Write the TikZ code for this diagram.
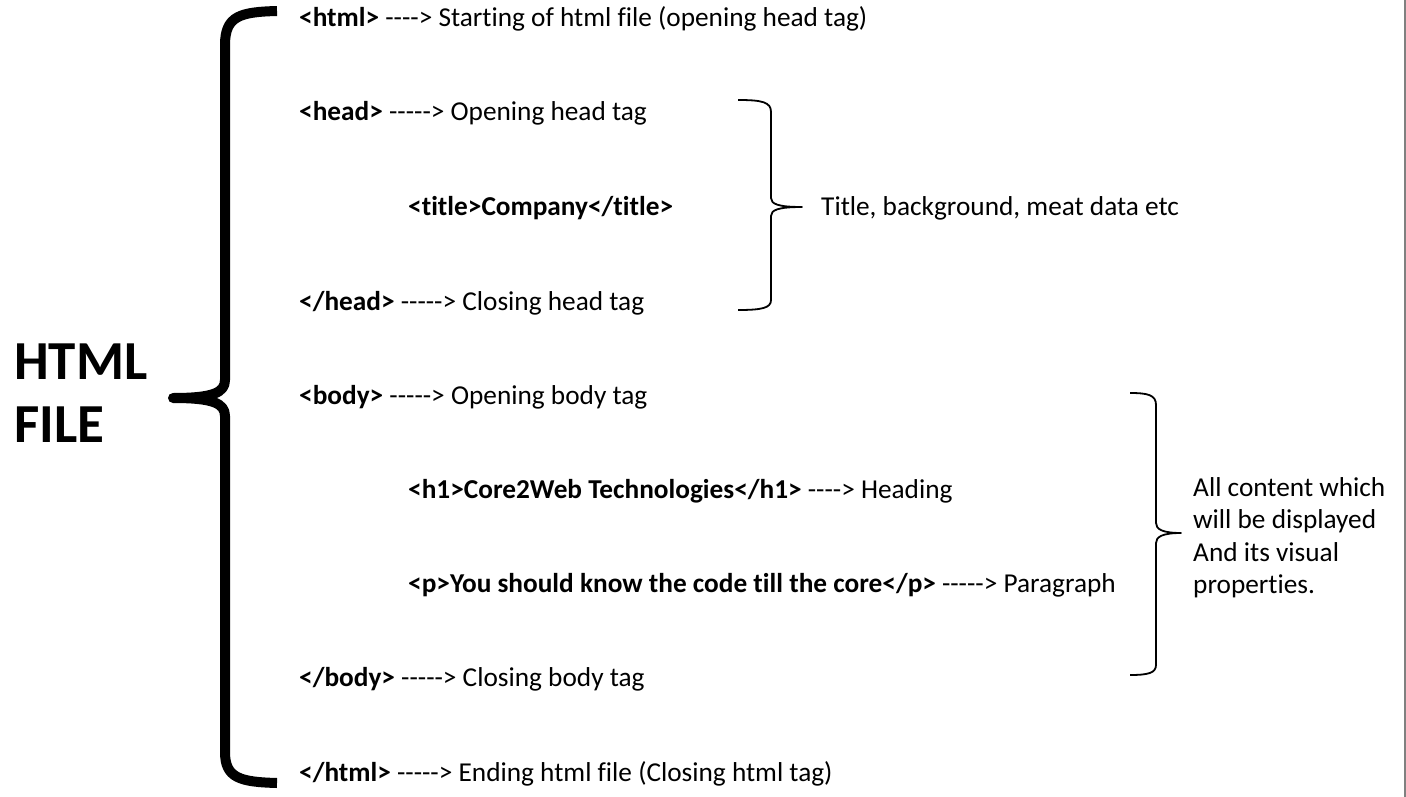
\documentclass[tikz,border=0pt]{standalone}
\usepackage{fontspec}
\setmainfont{Carlito}[Ligatures={TeXOff,NoCommon}]

\begin{document}
\begin{tikzpicture}[
x=1pt, y=-1pt,
tag_line/.style={anchor=base west, inner sep=0pt, font=\fontsize{27.3}{33}\selectfont},
side_note/.style={anchor=north west, inner sep=0pt, align=left, font=\fontsize{27.3}{32.5}\selectfont},
big_title/.style={anchor=west, inner sep=0pt, align=left, font=\fontsize{55}{63}\selectfont\bfseries},
big_brace/.style={line width=10pt, line join=round},
small_brace/.style={line width=1.8pt, line join=round}
]
\useasboundingbox (0,0) rectangle (1406,797);

% \node[style](name) at (x,y) {text};
\node[big_title](title) at (14,393) {HTML\\FILE};

\node[tag_line](html_open) at (299,27) {\textbf{<html>} ----> Starting of html file (opening head tag)};
\node[tag_line](head_open) at (299,121) {\textbf{<head>} -----> Opening head tag};
\node[tag_line](title_tag) at (408,215) {\textbf{<title>Company</title>}};
\node[tag_line](head_close) at (299,310) {\textbf{</head>} -----> Closing head tag};
\node[tag_line](body_open) at (299,404) {\textbf{<body>} -----> Opening body tag};
\node[tag_line](h1_tag) at (408,498) {\textbf{<h1>Core2Web Technologies</h1>} ----> Heading};
\node[tag_line](p_tag) at (408,592) {\textbf{<p>You should know the code till the core</p>} -----> Paragraph};
\node[tag_line](body_close) at (299,686) {\textbf{</body>} -----> Closing body tag};
\node[tag_line](html_close) at (299,781) {\textbf{</html>} -----> Ending html file (Closing html tag)};

\node[tag_line](head_note) at (821,215) {Title, background, meat data etc};
\node[side_note](body_note) at (1193,477) {All content which\\will be displayed\\And its visual\\properties.};

% braces
\coordinate (big_tip) at (173,398);
\coordinate (head_tip) at (802,207);
\coordinate (body_tip) at (1181,533);

\draw[big_brace] (277,11) .. controls (240,12) and (225,16) .. (225,45) -- (225,380)
  .. controls (225,393) and (212,398) .. (big_tip)
  .. controls (212,398) and (225,403) .. (225,416) -- (225,752)
  .. controls (225,778) and (240,782) .. (277,783);

\draw[small_brace] (738,100) .. controls (762,100) and (771,102) .. (771,112) -- (771,198)
  .. controls (771,204) and (778,207) .. (head_tip)
  .. controls (778,207) and (771,210) .. (771,216) -- (771,300)
  .. controls (771,308) and (762,310) .. (738,310);

\draw[small_brace] (1130,393) .. controls (1148,393) and (1156,395) .. (1156,405) -- (1156,523)
  .. controls (1156,529) and (1162,533) .. (body_tip)
  .. controls (1162,533) and (1156,537) .. (1156,543) -- (1156,665)
  .. controls (1156,673) and (1148,675) .. (1130,675);

\draw[line width=2pt, gray] (1405,0) -- (1405,797);
\end{tikzpicture}
\end{document}
